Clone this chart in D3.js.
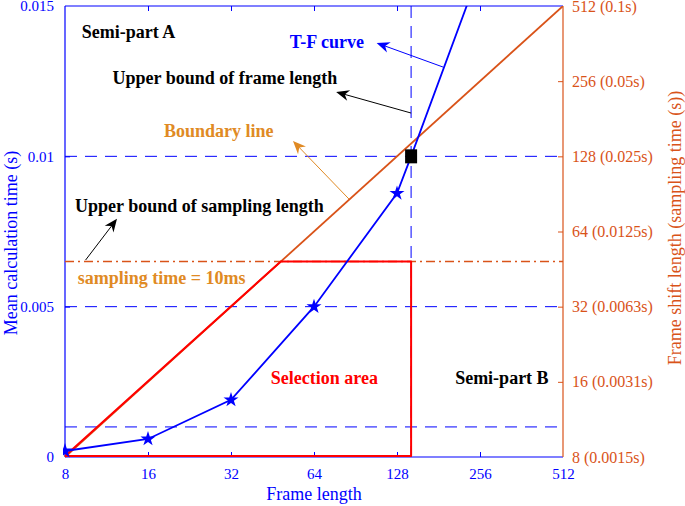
<!DOCTYPE html>
<html>
<head>
<meta charset="utf-8">
<script src="https://cdn.jsdelivr.net/npm/d3@7"></script>
<style>
  body { margin: 0; background: #fff; }
  svg text { font-family: "Liberation Serif", "Times New Roman", serif; }
</style>
</head>
<body>
<div id="chart"></div>
<script>
// ---- data ----
var frameTicks = [8, 16, 32, 64, 128, 256, 512];
var timeTicks = [0, 0.005, 0.01, 0.015];
var timeTickLabels = ["0", "0.005", "0.01", "0.015"];
var shiftTicks = [8, 16, 32, 64, 128, 256, 512];
var shiftTickLabels = ["8 (0.0015s)", "16 (0.0031s)", "32 (0.0063s)", "64 (0.0125s)",
                       "128 (0.025s)", "256 (0.05s)", "512 (0.1s)"];

// T-F curve: frame length vs mean calculation time
var tfFrame = [8, 16, 32, 64, 128, 144, 256];
var tfTime = [0.0002, 0.0006, 0.0019, 0.005, 0.00877, 0.01, 0.0162];
var starFrames = [8, 16, 32, 64, 128];

var boundaryFrame = [8, 512];      // frame shift = frame length
var frameBound = 144;              // upper bound of frame length
var timeBound = 0.01;
var samplingLevel = 0.0065;        // sampling time = 10ms line (left axis units)
var gridTimes = [0.001, 0.005, 0.01];

// selection area polygon (frame length, time)
var selFrame = [8, 48.5, 144, 144, 8];
var selTime = [0, 0.0065, 0.0065, 0, 0];

// annotations
var labelText = ["Semi-part A", "Upper bound of frame length", "Boundary line", "T-F curve",
                 "Upper bound of sampling length", "sampling time = 10ms", "Selection area", "Semi-part B"];
var labelX = [9.2, 11.9, 18.3, 52.3, 8.7, 8.9, 44.6, 208];
var labelY = [0.01394, 0.01241, 0.01064, 0.0136, 0.00815, 0.00575, 0.00243, 0.00243];
var labelColor = ["#000", "#000", "#e08a24", "#0000ff", "#000", "#e08a24", "#ff0000", "#000"];

var arrowFrom = [[188, 0.01297], [144, 0.01144], [85.7, 0.00858], [9.5, 0.00655]];
var arrowTo = [[108, 0.01377], [77, 0.01214], [53.7, 0.01051], [12.35, 0.00792]];
var arrowColor = ["#0000ff", "#000", "#e08a24", "#000"];

// ---- layout ----
var W = 685, H = 506;
var mLeft = 65, mRight = 563, mTop = 6, mBottom = 457;
var blue = "#0000ff", orange = "#d95319", red = "#ff0000";

var svg = d3.select("#chart").append("svg")
    .attr("width", W).attr("height", H);

var x = d3.scaleLog().base(2).domain([8, 512]).range([mLeft, mRight]);
var y = d3.scaleLinear().domain([0, 0.015]).range([mBottom, mTop]);
var yR = d3.scaleLog().base(2).domain([8, 512]).range([mBottom, mTop]);

// ---- axes ----
var axisFont = function (g, color, size) {
  g.selectAll("text").attr("font-family", "Liberation Serif").attr("font-size", size).attr("fill", color);
  g.selectAll("line").attr("stroke", color);
  g.select(".domain").remove();
};

var xAxis = svg.append("g").attr("transform", "translate(0," + mBottom + ")")
    .call(d3.axisBottom(x).tickValues(frameTicks).tickFormat(d3.format("d")).tickSizeInner(-5).tickPadding(11));
axisFont(xAxis, blue, 15);
xAxis.selectAll(".tick").filter(d => d === 8 || d === 512).select("line").remove();

var xTop = svg.append("g").attr("transform", "translate(0," + mTop + ")")
    .call(d3.axisTop(x).tickValues(frameTicks.slice(1, -1)).tickSizeInner(-5).tickFormat(""));
axisFont(xTop, blue, 15);

var yAxis = svg.append("g").attr("transform", "translate(" + mLeft + ",0)")
    .call(d3.axisLeft(y).tickValues(timeTicks).tickFormat((d, i) => timeTickLabels[i]).tickSizeInner(-5).tickPadding(11));
axisFont(yAxis, blue, 15);
yAxis.selectAll(".tick").filter(d => d === 0 || d === 0.015).select("line").remove();

var yRight = svg.append("g").attr("transform", "translate(" + mRight + ",0)")
    .call(d3.axisRight(yR).tickValues(shiftTicks).tickFormat((d, i) => shiftTickLabels[i]).tickSizeInner(-5).tickPadding(9));
axisFont(yRight, orange, 16);
yRight.selectAll(".tick").filter(d => d === 8 || d === 512).select("line").remove();

// axis frame lines
svg.append("line").attr("x1", mLeft).attr("x2", mRight).attr("y1", mBottom).attr("y2", mBottom)
    .attr("stroke", blue).attr("stroke-width", 1.2);
svg.append("line").attr("x1", mLeft).attr("x2", mRight).attr("y1", mTop).attr("y2", mTop)
    .attr("stroke", blue).attr("stroke-width", 1.2);
svg.append("line").attr("x1", mLeft).attr("x2", mLeft).attr("y1", mTop).attr("y2", mBottom)
    .attr("stroke", blue).attr("stroke-width", 1.2);
svg.append("line").attr("x1", mRight).attr("x2", mRight).attr("y1", mTop).attr("y2", mBottom)
    .attr("stroke", orange).attr("stroke-width", 1.2);

// axis titles
svg.append("text")
    .attr("x", (mLeft + mRight) / 2).attr("y", 500)
    .attr("text-anchor", "middle").attr("font-size", 18).attr("fill", blue)
    .text("Frame length");

svg.append("text")
    .attr("transform", "translate(17," + 243 + ") rotate(-90)")
    .attr("text-anchor", "middle").attr("font-size", 18).attr("fill", blue)
    .text("Mean calculation time (s)");

svg.append("text")
    .attr("transform", "translate(681," + 228 + ") rotate(-90)")
    .attr("text-anchor", "middle").attr("font-size", 18).attr("fill", orange)
    .text("Frame shift length (sampling time (s))");

// ---- plot content ----
svg.append("defs").append("clipPath").attr("id", "clip")
  .append("rect").attr("x", mLeft - 2).attr("y", mTop)
  .attr("width", mRight - mLeft + 2).attr("height", mBottom - mTop + 2);

var plot = svg.append("g").attr("clip-path", "url(#clip)");

// dashed grid lines
plot.selectAll(".hgrid").data(gridTimes).enter().append("line")
    .attr("x1", mLeft).attr("x2", mRight)
    .attr("y1", d => y(d)).attr("y2", d => y(d))
    .attr("stroke", blue).attr("stroke-width", 1)
    .attr("stroke-dasharray", "12,8");

plot.append("line")
    .attr("x1", x(frameBound)).attr("x2", x(frameBound))
    .attr("y1", mTop).attr("y2", mBottom)
    .attr("stroke", blue).attr("stroke-width", 1)
    .attr("stroke-dasharray", "12,8");

// sampling time line
plot.append("line")
    .attr("x1", mLeft).attr("x2", mRight)
    .attr("y1", y(samplingLevel)).attr("y2", y(samplingLevel))
    .attr("stroke", orange).attr("stroke-width", 1.4)
    .attr("stroke-dasharray", "9,4,2,4");

// boundary line
plot.append("line")
    .attr("x1", x(boundaryFrame[0])).attr("y1", yR(boundaryFrame[0]))
    .attr("x2", x(boundaryFrame[1])).attr("y2", yR(boundaryFrame[1]))
    .attr("stroke", orange).attr("stroke-width", 1.8);

// selection area
var selLine = d3.line().x((d, i) => x(selFrame[i])).y((d, i) => y(selTime[i]) - (selTime[i] === 0 ? 1 : 0));
plot.append("path")
    .datum(selFrame)
    .attr("d", selLine)
    .attr("fill", "none").attr("stroke", red).attr("stroke-width", 2)
    .attr("stroke-linejoin", "round");

// T-F curve
var tfLine = d3.line().x((d, i) => x(tfFrame[i])).y((d, i) => y(tfTime[i]));
plot.append("path")
    .datum(tfFrame)
    .attr("d", tfLine)
    .attr("fill", "none").attr("stroke", blue).attr("stroke-width", 1.8);

plot.selectAll(".star").data(starFrames).enter().append("path")
    .attr("d", d3.symbol().type(d3.symbolStar).size(70))
    .attr("transform", d => "translate(" + x(d) + "," + y(tfTime[tfFrame.indexOf(d)]) + ")")
    .attr("fill", blue);

plot.append("rect")
    .attr("x", x(frameBound) - 6).attr("y", y(timeBound) - 7)
    .attr("width", 12).attr("height", 14)
    .attr("fill", "#000");

// ---- annotations ----
svg.selectAll(".label").data(labelText).enter().append("text")
    .attr("x", (d, i) => x(labelX[i])).attr("y", (d, i) => y(labelY[i]))
    .attr("font-size", 18).attr("font-weight", "bold")
    .attr("fill", (d, i) => labelColor[i])
    .text(d => d);

function arrowHead(x1, y1, x2, y2) {
  var a = Math.atan2(y2 - y1, x2 - x1), L = 13, Wd = 5.5, back = 4;
  var ux = Math.cos(a), uy = Math.sin(a), px = -uy, py = ux;
  var bx = x2 - ux * L, by = y2 - uy * L;
  var nx = x2 - ux * (L - back), ny = y2 - uy * (L - back);
  return "M" + x2 + "," + y2 +
    "L" + (bx + px * Wd) + "," + (by + py * Wd) +
    "L" + nx + "," + ny +
    "L" + (bx - px * Wd) + "," + (by - py * Wd) + "Z";
}

arrowFrom.forEach(function (f, i) {
  var x1 = x(f[0]), y1 = y(f[1]), x2 = x(arrowTo[i][0]), y2 = y(arrowTo[i][1]);
  var a = Math.atan2(y2 - y1, x2 - x1);
  svg.append("line")
      .attr("x1", x1).attr("y1", y1)
      .attr("x2", x2 - Math.cos(a) * 8).attr("y2", y2 - Math.sin(a) * 8)
      .attr("stroke", arrowColor[i]).attr("stroke-width", 1);
  svg.append("path").attr("d", arrowHead(x1, y1, x2, y2)).attr("fill", arrowColor[i]);
});
</script>
</body>
</html>
